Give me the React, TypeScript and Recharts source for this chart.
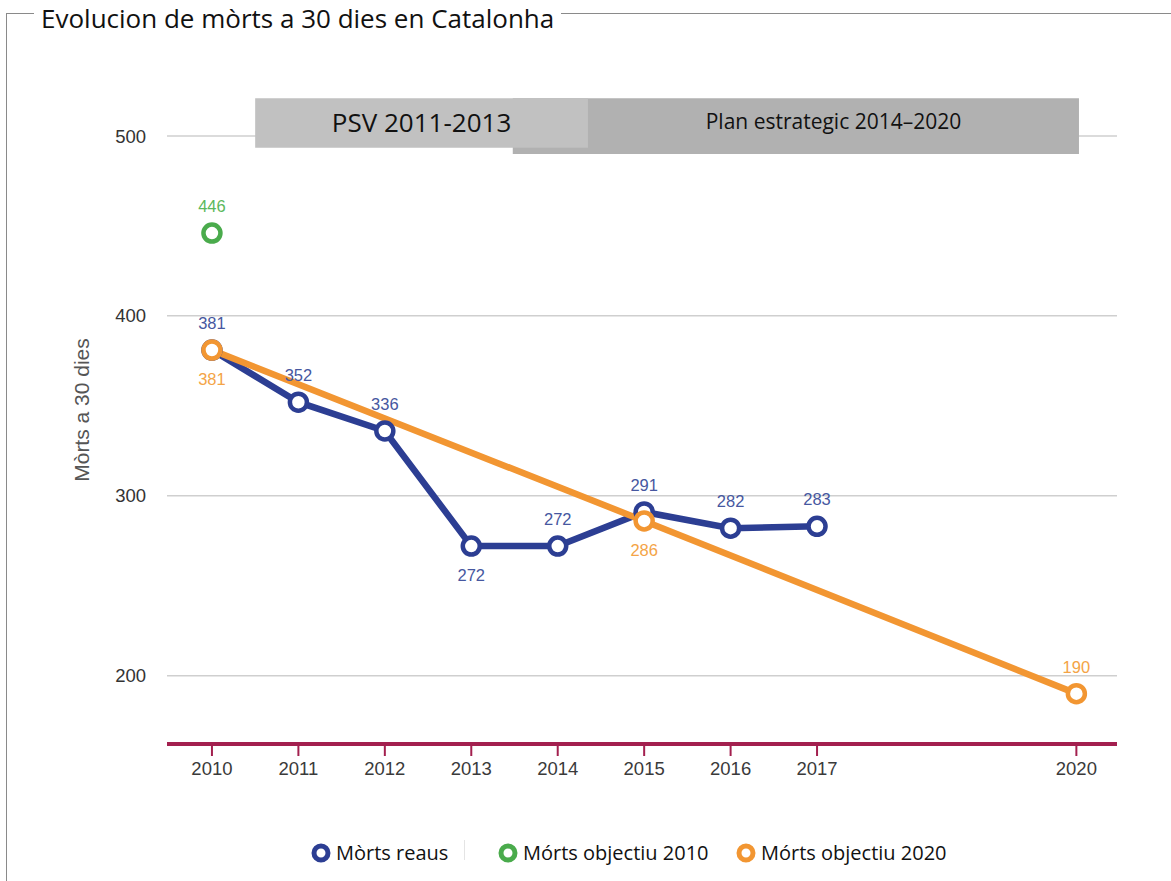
import { LineChart, Line, XAxis, YAxis, CartesianGrid, ReferenceArea, LabelList, Label } from 'recharts'

// Mòrts reaus (real deaths at 30 days)
const realYears = [2010, 2011, 2012, 2013, 2014, 2015, 2016, 2017]
const realDeaths = [381, 352, 336, 272, 272, 291, 282, 283]

// Objective 2010 (single point)
const target2010Years = [2010]
const target2010Deaths = [446]

// Objective 2020 path
const target2020Years = [2010, 2015, 2020]
const target2020Deaths = [381, 286, 190]

const xTicks = [2010, 2011, 2012, 2013, 2014, 2015, 2016, 2017, 2020]
const yTicks = [200, 300, 400, 500]

const periodNames = ['PSV 2011-2013', 'Plan estrategic 2014–2020']

const title = 'Evolucion de mòrts a 30 dies en Catalonha'
const yTitle = 'Mòrts a 30 dies'
const seriesNames = ['Mòrts reaus', 'Mórts objectiu 2010', 'Mórts objectiu 2020']

const realData = realYears.map((year, i) => ({ year, value: realDeaths[i] }))
const obj2010Data = target2010Years.map((year, i) => ({ year, value: target2010Deaths[i] }))
const obj2020Data = target2020Years.map((year, i) => ({ year, value: target2020Deaths[i] }))

const BLUE = '#2c3e93'
const GREEN = '#4aab4c'
const ORANGE = '#f29632'
const AXIS_RED = '#a3204f'
const CHART_FONT = "'Liberation Sans', Arial, sans-serif"
const TEXT_FONT = "'Open Sans', 'Liberation Sans', sans-serif"

const makeLabel = (color: string, isBelow: (index: number) => boolean) => (props: any) => {
  const { x, y, value, index } = props
  const dy = isBelow(index) ? 35 : -21
  return (
    <text x={x} y={y + dy} textAnchor="middle" fill={color} fontSize={16.5} fontFamily={CHART_FONT}>
      {value}
    </text>
  )
}

const ringDot = (color: string) => ({ r: 8.5, stroke: color, strokeWidth: 4.5, fill: '#fff' })

function LegendItem({ color, text, cx }: { color: string; text: string; cx: number }) {
  return (
    <div style={{ position: 'absolute', left: cx - 11, top: 0, display: 'flex', alignItems: 'center', whiteSpace: 'nowrap' }}>
      <svg width={22} height={22}>
        <circle cx={11} cy={11} r={7} fill="#fff" stroke={color} strokeWidth={5} />
      </svg>
      <span style={{ marginLeft: 4, fontSize: 20, color: '#111', fontFamily: TEXT_FONT }}>{text}</span>
    </div>
  )
}

export default function App() {
  return (
    <div style={{ position: 'absolute', left: 0, top: 0, width: 1171, height: 881, background: '#fff', overflow: 'hidden' }}>
      {/* frame with title */}
      <div
        style={{
          position: 'absolute',
          left: 6,
          top: 13,
          width: 1200,
          height: 900,
          borderTop: '1px solid #8a8a8a',
          borderLeft: '1px solid #8a8a8a',
        }}
      />
      <div
        style={{
          position: 'absolute',
          left: 34,
          top: 0,
          padding: '0 7px',
          background: '#fff',
          fontFamily: TEXT_FONT,
          fontSize: 26,
          color: '#111',
          lineHeight: '36px',
          whiteSpace: 'nowrap',
        }}
      >
        {title}
      </div>

      <div style={{ position: 'absolute', left: 0, top: 0 }}>
        <LineChart width={1171} height={881} margin={{ top: 82, right: 54, bottom: 97, left: 67 }}>
          <CartesianGrid vertical={false} horizontalValues={yTicks} stroke="#cfcfcf" strokeWidth={1.5} />
          <XAxis
            dataKey="year"
            type="number"
            domain={[2009.48, 2020.47]}
            ticks={xTicks}
            allowDuplicatedCategory={false}
            height={40}
            axisLine={{ stroke: AXIS_RED, strokeWidth: 4 }}
            tickLine={{ stroke: AXIS_RED, strokeWidth: 2 }}
            tickSize={12}
            tickMargin={6}
            tick={{ fill: '#3a3a3a', fontSize: 18.5, fontFamily: CHART_FONT }}
          />
          <YAxis
            dataKey="value"
            type="number"
            domain={[162, 530]}
            ticks={yTicks}
            width={100}
            axisLine={false}
            tickLine={false}
            tickSize={0}
            tickMargin={21}
            tick={{ fill: '#333', fontSize: 18.5, fontFamily: CHART_FONT }}
          >
            <Label
              content={() => (
                <text
                  x={81}
                  y={410}
                  transform="rotate(-90 81 410)"
                  textAnchor="middle"
                  dominantBaseline="central"
                  fill="#555"
                  fontSize={21}
                  fontFamily={CHART_FONT}
                >
                  {yTitle}
                </text>
              )}
            />
          </YAxis>

          {/* period banners */}
          <ReferenceArea x1={2013.48} x2={2020.03} y1={490} y2={521} fill="#b1b1b1" fillOpacity={1} stroke="none" />
          <ReferenceArea x1={2010.5} x2={2014.35} y1={493.5} y2={521} fill="#c1c1c1" fillOpacity={1} stroke="none">
            <Label value={periodNames[0]} position="center" fill="#111" fontSize={26} fontFamily={TEXT_FONT} />
          </ReferenceArea>
          <ReferenceArea x1={2014.35} x2={2020.03} y1={495} y2={521} fill="none" fillOpacity={0} stroke="none">
            <Label value={periodNames[1]} position="center" fill="#111" fontSize={21} fontFamily={TEXT_FONT} />
          </ReferenceArea>

          <Line
            data={realData}
            dataKey="value"
            name={seriesNames[0]}
            stroke={BLUE}
            strokeWidth={6.5}
            dot={ringDot(BLUE)}
            activeDot={false}
            isAnimationActive={false}
          >
            <LabelList dataKey="value" content={makeLabel('#4657a0', (i) => i === 3)} />
          </Line>
          <Line
            data={obj2010Data}
            dataKey="value"
            name={seriesNames[1]}
            stroke={GREEN}
            strokeWidth={6.5}
            dot={ringDot(GREEN)}
            activeDot={false}
            isAnimationActive={false}
          >
            <LabelList dataKey="value" content={makeLabel('#5cb85c', () => false)} />
          </Line>
          <Line
            data={obj2020Data}
            dataKey="value"
            name={seriesNames[2]}
            stroke={ORANGE}
            strokeWidth={6.5}
            dot={ringDot(ORANGE)}
            activeDot={false}
            isAnimationActive={false}
          >
            <LabelList dataKey="value" content={makeLabel('#f4a446', (i) => i < 2)} />
          </Line>
        </LineChart>
      </div>

      {/* legend */}
      <div style={{ position: 'absolute', left: 0, top: 839, width: 1171, height: 24 }}>
        <LegendItem color={BLUE} text={seriesNames[0]} cx={321} />
        <div style={{ position: 'absolute', left: 464, top: 1, width: 1, height: 20, background: '#e4e4e4' }} />
        <LegendItem color={GREEN} text={seriesNames[1]} cx={508} />
        <LegendItem color={ORANGE} text={seriesNames[2]} cx={746} />
      </div>
    </div>
  )
}
